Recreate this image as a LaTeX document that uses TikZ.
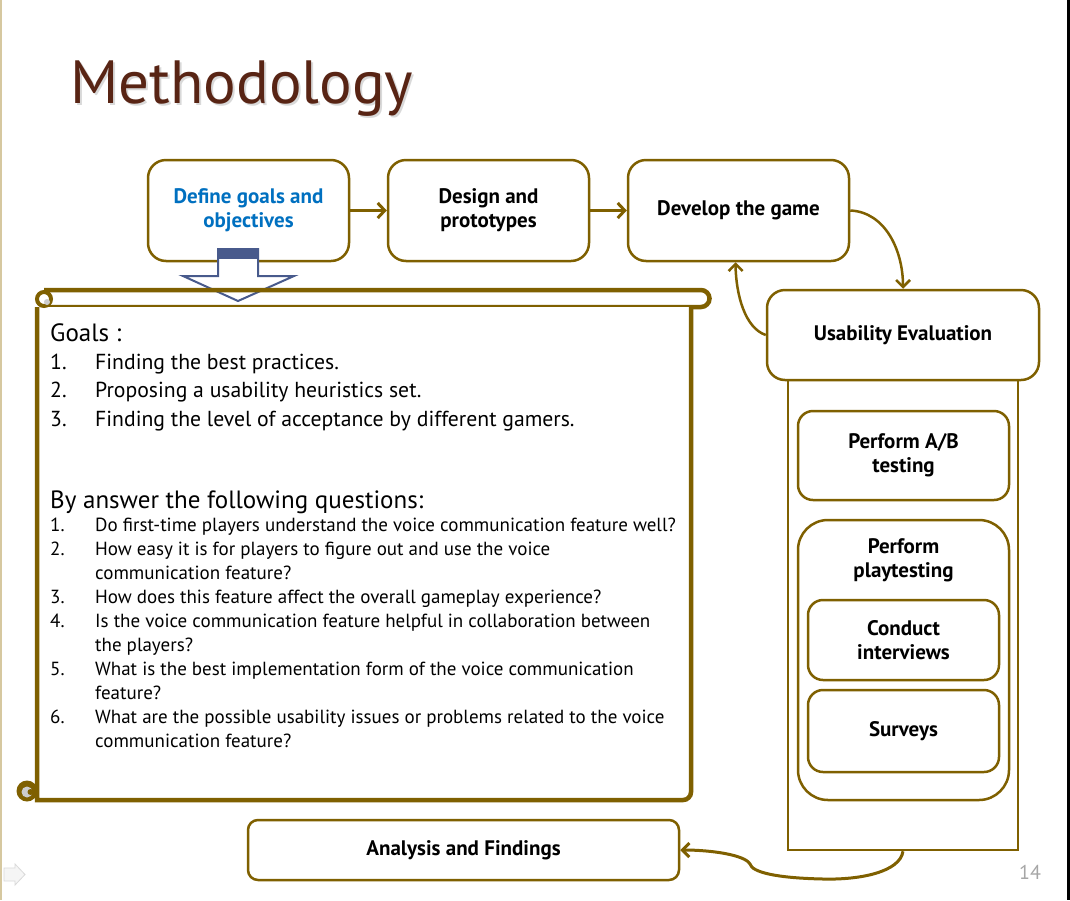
\documentclass[tikz,border=0pt]{standalone}
\usepackage{fontspec}
\setmainfont{PT Sans}
\usetikzlibrary{arrows.meta}
\definecolor{gold}{RGB}{127,96,0}
\definecolor{titlebrown}{RGB}{88,36,20}
\definecolor{linkblue}{RGB}{0,112,192}
\definecolor{arrowblue}{RGB}{72,90,140}
\definecolor{curlgray}{RGB}{205,205,205}
\definecolor{edgebeige}{RGB}{214,200,160}
\definecolor{pagegray}{RGB}{166,166,166}
\begin{document}
\begin{tikzpicture}[x=1pt,y=-1pt,
  stepbox/.style={draw=gold, line width=2.5pt, rounded corners=18pt, fill=white,
    align=center, inner sep=0pt, font=\bfseries\fontsize{21}{24}\selectfont},
  flow/.style={draw=gold, line width=3pt, -{Straight Barb[length=7pt,width=15pt]}},
  curvedflow/.style={draw=gold, line width=2.5pt, -{Straight Barb[length=7pt,width=14pt]}},
  scrollline/.style={draw=gold, line width=4.5pt},
  listtext/.style={anchor=base west, inner sep=0pt, align=left}]
\useasboundingbox (0,0) rectangle (1070,900);
\fill[white] (0,0) rectangle (1070,900);
\fill[edgebeige] (0,0) rectangle (2,900);
\fill[black] (1067,0) rectangle (1070,900);

% title with a soft drop shadow set behind it in the same box
\node[anchor=base west, inner sep=0pt, font=\fontsize{61}{70}\selectfont] (title) at (70,103)
  {\rlap{\hspace{2pt}\raisebox{-2.5pt}{\textcolor{black!15}{Methodology}}}\textcolor{titlebrown}{Methodology}};

% main process steps
\node[stepbox, minimum width=201pt, minimum height=101pt, text=linkblue] (goals) at (248.5,210.5) {Define goals and\\objectives};
\node[stepbox, minimum width=201pt, minimum height=101pt] (design) at (488.5,210.5) {Design and\\prototypes};
\node[stepbox, minimum width=221pt, minimum height=101pt] (develop) at (738.5,210.5) {Develop the game};

% evaluation column
\node[draw=gold, line width=2.5pt, minimum width=230pt, minimum height=470pt, inner sep=0pt] (column) at (903,615) {};
\node[stepbox, minimum width=272pt, minimum height=90pt] (usab) at (903,335) {Usability Evaluation};
\node[stepbox, rounded corners=15pt, minimum width=211pt, minimum height=89pt] (ab) at (903.5,455.5) {Perform A/B\\testing};
\node[stepbox, rounded corners=30pt, minimum width=211pt, minimum height=280pt] (play) at (903.5,660) {};
\node[align=center, inner sep=0pt, font=\bfseries\fontsize{21}{24}\selectfont] (playlabel) at (903.5,560) {Perform\\playtesting};
\node[stepbox, rounded corners=15pt, minimum width=191pt, minimum height=80pt] (interviews) at (903.5,640) {Conduct\\interviews};
\node[stepbox, rounded corners=15pt, minimum width=191pt, minimum height=82pt] (surveys) at (903.5,731) {Surveys};

\node[stepbox, rounded corners=10pt, minimum width=431pt, minimum height=60pt] (analysis) at (463.5,850) {Analysis and Findings};

% connectors
\draw[flow] (goals.east) -- (design.west);
\draw[flow] (design.east) -- (develop.west);
\draw[curvedflow] (develop.east) .. controls (885,212) and (903,250) .. (usab.north);
\draw[curvedflow] (usab.west) .. controls (745,328) and (736,295) .. ([xshift=-3pt]develop.south);
\draw[curvedflow, line width=3pt] (column.south) .. controls (900,872) and (860,880) .. (823,879)
  .. controls (775,878) and (752,872) .. (750,864)
  .. controls (745,855) and (712,850) .. (analysis.east);

% block arrow from the first step into the scroll
\draw[draw=arrowblue, line width=2pt, fill=white, line join=miter]
  (218,249) -- (258,249) -- (258,276) -- (294,276) -- (238,301) -- (183,276) -- (218,276) -- cycle;
\fill[arrowblue] (218,249) rectangle (258,259);

% scroll: top roll, body and curls
\draw[scrollline] (44,290) -- (701,290) arc[start angle=-90, end angle=90, radius=8.5] -- (44,307);
\draw[scrollline, fill=white] (37,307) -- (37,800) -- (683,800) arc[start angle=90, end angle=0, radius=8] -- (691,307);
\draw[gold, line width=4pt, fill=white] (44,299) circle[radius=7];
\fill[curlgray] (47,302) circle[radius=3];
\fill[gold] (27,791) circle[radius=10.5];
\fill[curlgray] (27,792) circle[radius=5.5];
\fill[gold] (30.5,792) circle[radius=3];

% scroll text
\node[listtext, font=\fontsize{25}{30}\selectfont] (goalshead) at (50,341) {Goals :};
\node[listtext, font=\fontsize{21.7}{28.3}\selectfont] (goallist) at (50,369.5) {%
  \begin{tabular}[t]{@{}p{45pt}@{}l@{}}
  1. & Finding the best practices.\\
  2. & Proposing a usability heuristics set.\\
  3. & Finding the level of acceptance by different gamers.
  \end{tabular}};
\node[listtext, font=\fontsize{25}{30}\selectfont] (questionhead) at (50,508) {By answer the following questions:};
\node[listtext, font=\fontsize{19}{24.1}\selectfont] (questionlist) at (50,531) {%
  \begin{tabular}[t]{@{}p{45pt}@{}l@{}}
  1. & Do first-time players understand the voice communication feature well?\\
  2. & How easy it is for players to figure out and use the voice\\
     & communication feature?\\
  3. & How does this feature affect the overall gameplay experience?\\
  4. & Is the voice communication feature helpful in collaboration between\\
     & the players?\\
  5. & What is the best implementation form of the voice communication\\
     & feature?\\
  6. & What are the possible usability issues or problems related to the voice\\
     & communication feature?
  \end{tabular}};

% slide number and navigation mark
\node[inner sep=0pt, text=pagegray, font=\fontsize{20}{24}\selectfont] (pagenum) at (1030,872) {14};
\draw[draw=black!15, fill=black!4, line width=0.8pt]
  (4,868) -- (15,868) -- (15,864) -- (25,874.5) -- (15,885) -- (15,881) -- (4,881) -- cycle;
\end{tikzpicture}
\end{document}
